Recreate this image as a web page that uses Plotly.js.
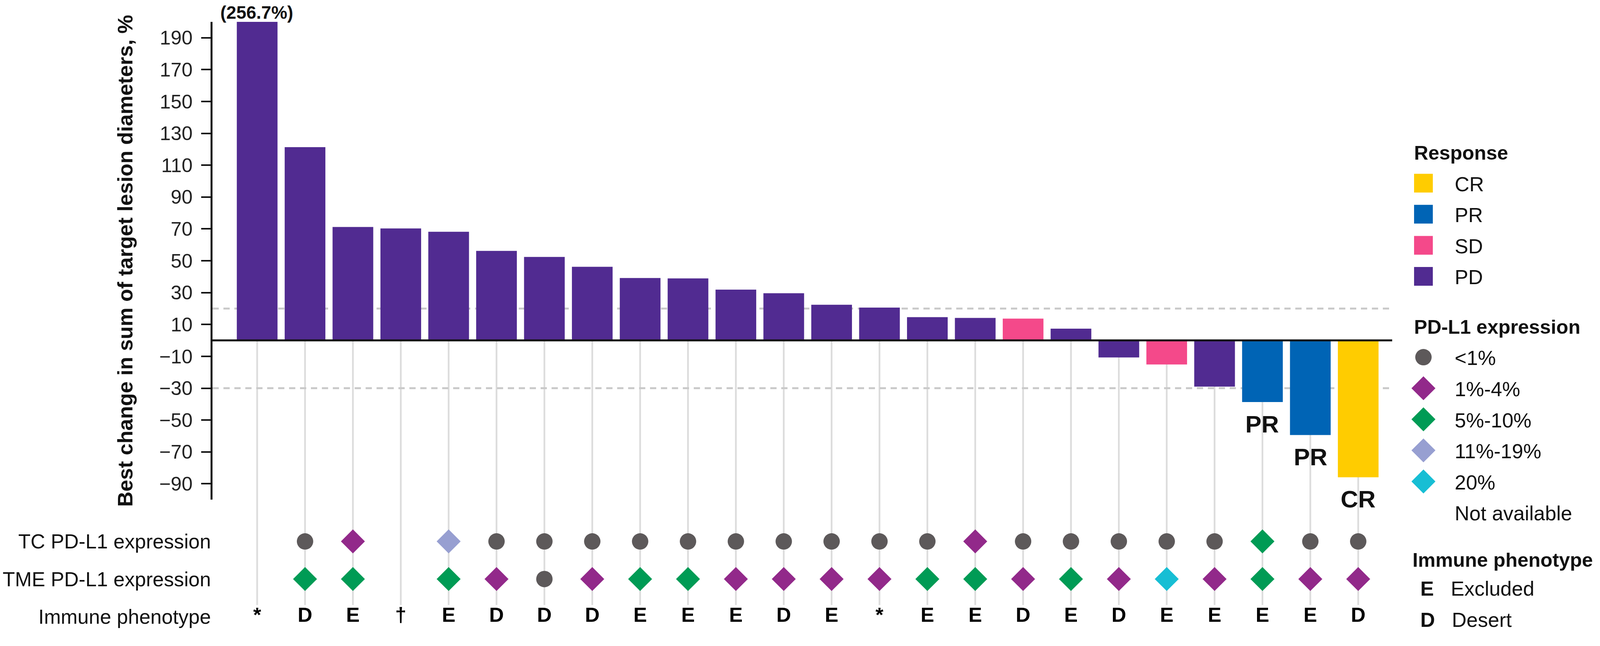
<!DOCTYPE html>
<html>
<head>
<meta charset="utf-8">
<script src="https://cdn.plot.ly/plotly-3.0.1.min.js"></script>
<style>
  html { overflow: hidden; background: #fff; }
  body { margin: 0; padding: 0; background: #fff; width: 4096px; height: 1655px; }
  /* laid out at 1/4 size and scaled up, so the legend symbols keep their proportions */
  #wrap { transform: scale(4); transform-origin: 0 0; width: 1024px; height: 414px; }
</style>
</head>
<body>
<div id="wrap"><div id="chart"></div></div>
<script>
var NA = 'Not available'

// one entry per patient, ordered by best change
var change = [256.7, 121.3, 71.2, 70.3, 68.2, 56.2, 52.4, 46.2, 39.2, 38.9, 31.9, 29.6,
              22.4, 20.6, 14.6, 14.1, 13.7, 7.4, -10.7, -15.1, -29.0, -38.7, -59.4, -85.9]
var response = ['PD','PD','PD','PD','PD','PD','PD','PD','PD','PD','PD','PD',
                'PD','PD','PD','PD','SD','PD','PD','SD','PD','PR','PR','CR']
var tcPDL1 = [NA,'<1%','1%-4%',NA,'11%-19%','<1%','<1%','<1%','<1%','<1%','<1%','<1%',
              '<1%','<1%','<1%','1%-4%','<1%','<1%','<1%','<1%','<1%','5%-10%','<1%','<1%']
var tmePDL1 = [NA,'5%-10%','5%-10%',NA,'5%-10%','1%-4%','<1%','1%-4%','5%-10%','5%-10%','1%-4%','1%-4%',
               '1%-4%','1%-4%','5%-10%','5%-10%','1%-4%','5%-10%','1%-4%','20%','1%-4%','5%-10%','1%-4%','1%-4%']
var phenotype = ['*','D','E','\u2020','E','D','D','D','E','E','E','D',
                 'E','*','E','E','D','E','D','E','E','E','E','D']

var responseCats = ['CR', 'PR', 'SD', 'PD']
var responseColors = ['#FFCC00', '#0064B5', '#F4498A', '#512B91']
var labelledResponses = ['PR', 'CR']

var pdl1Cats = ['<1%', '1%-4%', '5%-10%', '11%-19%', '20%', NA]
var pdl1Colors = ['#5D595A', '#92298A', '#009B55', '#979FD1', '#17BED4', 'rgba(0,0,0,0)']
var pdl1Symbols = ['circle', 'diamond', 'diamond', 'diamond', 'diamond', 'circle']

var rowLabels = ['TC PD-L1 expression', 'TME PD-L1 expression', 'Immune phenotype']
var phenoCodes = ['E', 'D']
var phenoNames = ['Excluded', 'Desert']
var thresholds = [20, -30]
var yTicks = [-90, -70, -50, -30, -10, 10, 30, 50, 70, 90, 110, 130, 150, 170, 190]

var FONT = 'Liberation Sans, Arial, Helvetica, sans-serif'
var yRange = [-100, 200]
var mainDomain = [0.2092, 1]
var rowsDomain = [0, 0.19]
var rowsRange = [-0.25, 2.8]
var lineEnd = 0.31   // gray guide lines stop just above the phenotype row

var pos = change.map(function (v, i) { return i })
var traces = []

responseCats.forEach(function (cat, k) {
  var idx = pos.filter(function (i) { return response[i] === cat })
  traces.push({
    type: 'bar', name: cat, legend: 'legend',
    x: idx, y: idx.map(function (i) { return change[i] }),
    width: 0.85,
    marker: {color: responseColors[k], line: {width: 0}}
  })
})

pdl1Cats.forEach(function (cat, k) {
  var xs = [], ys = []
  pos.forEach(function (i) {
    if (tcPDL1[i] === cat) { xs.push(i); ys.push(2) }
    if (tmePDL1[i] === cat) { xs.push(i); ys.push(1) }
  })
  traces.push({
    type: 'scatter', mode: 'markers', name: cat, legend: 'legend2',
    x: xs, y: ys, xaxis: 'x', yaxis: 'y2',
    marker: {symbol: pdl1Symbols[k], size: pdl1Symbols[k] === 'circle' ? 10.5 : 11.8,
             color: pdl1Colors[k], line: {width: 0}},
    cliponaxis: false
  })
})

traces.push({
  type: 'scatter', mode: 'text', showlegend: false,
  x: pos, y: pos.map(function () { return 0 }), xaxis: 'x', yaxis: 'y2',
  text: phenotype,
  textfont: {family: FONT, size: 13, color: '#000', weight: 'bold'},
  cliponaxis: false
})

phenoCodes.forEach(function (code, k) {
  traces.push({
    type: 'scatter', mode: 'markers', legend: 'legend3',
    name: '<b>' + code + '</b>\u00a0\u00a0\u00a0' + phenoNames[k],
    x: [null], y: [null], xaxis: 'x', yaxis: 'y2',
    marker: {color: 'rgba(0,0,0,0)', size: 10}
  })
})

// guide lines, thresholds and zero line
function rowsPaper(v) {
  return rowsDomain[0] + (v - rowsRange[0]) / (rowsRange[1] - rowsRange[0]) * (rowsDomain[1] - rowsDomain[0])
}
var zeroPaper = mainDomain[0] + (0 - yRange[0]) / (yRange[1] - yRange[0]) * (mainDomain[1] - mainDomain[0])

var shapes = pos.map(function (i) {
  return {type: 'line', xref: 'x', yref: 'paper', x0: i, x1: i, y0: zeroPaper, y1: rowsPaper(lineEnd),
          line: {color: '#DCDCDC', width: 1.1}, layer: 'below'}
})
thresholds.forEach(function (t) {
  shapes.push({type: 'line', xref: 'paper', yref: 'y', x0: 0, x1: 1, y0: t, y1: t,
               line: {color: '#CACACA', width: 1.25, dash: '4px,3px'}, layer: 'below'})
})
shapes.push({type: 'line', xref: 'paper', yref: 'y', x0: 0, x1: 1, y0: 0, y1: 0,
             line: {color: '#111', width: 1.25}, layer: 'above'})

var annotations = []
pos.forEach(function (i) {
  if (change[i] > yRange[1]) {
    annotations.push({x: i, y: yRange[1], xref: 'x', yref: 'y', yanchor: 'bottom', yshift: -1,
                      borderpad: 0, text: '<b>(' + change[i] + '%)</b>', showarrow: false,
                      font: {size: 11.5, color: '#111'}})
  }
  if (labelledResponses.indexOf(response[i]) >= 0) {
    annotations.push({x: i, y: change[i], xref: 'x', yref: 'y', yanchor: 'top', yshift: -3,
                      text: '<b>' + response[i] + '</b>', showarrow: false,
                      font: {size: 15.5, color: '#111'}})
  }
})
annotations.push({xref: 'paper', yref: 'paper', x: 1.0165, y: 0.108, xanchor: 'left', yanchor: 'middle',
                  borderpad: 0, text: '<b>Immune phenotype</b>', showarrow: false,
                  font: {size: 12.6, color: '#111'}})

var legendBase = {xanchor: 'left', yanchor: 'top', bgcolor: 'rgba(0,0,0,0)', borderwidth: 0,
                  font: {size: 13, color: '#111'}, tracegroupgap: 0, itemsizing: 'trace'}

var layout = {
  width: 1024, height: 414,
  margin: {l: 136, r: 133, t: 14, b: 2},
  font: {family: FONT, color: '#111'},
  paper_bgcolor: '#fff', plot_bgcolor: 'rgba(0,0,0,0)',
  barmode: 'overlay',
  showlegend: true,
  xaxis: {range: [-0.933, 23.71], visible: false, fixedrange: true},
  yaxis: {
    domain: mainDomain, range: yRange,
    tickvals: yTicks, ticks: 'outside', ticklen: 6, tickwidth: 1, tickcolor: '#111',
    tickfont: {size: 12.6, color: '#222'}, ticklabelstandoff: 3,
    showline: true, linecolor: '#111', linewidth: 1.2,
    showgrid: false, zeroline: false,
    title: {text: '<b>Best change in sum of target lesion diameters, %</b>',
            font: {size: 13.5, color: '#111'}, standoff: 13}
  },
  yaxis2: {
    domain: rowsDomain, range: rowsRange, anchor: 'x',
    tickvals: [2, 1, 0], ticktext: rowLabels, ticks: '',
    tickfont: {size: 12.9, color: '#111'}, ticklabelstandoff: 0,
    showline: false, showgrid: false, zeroline: false
  },
  legend: Object.assign({}, legendBase, {x: 1.0159, y: 0.814, indentation: -12,
    title: {text: '<b>Response</b>', font: {size: 12.6, color: '#111'}}}),
  legend2: Object.assign({}, legendBase, {x: 1.0159, y: 0.526, indentation: -12,
    title: {text: '<b>PD-L1 expression</b>', font: {size: 12.6, color: '#111'}}}),
  legend3: Object.assign({}, legendBase, {x: 0.9907, y: 0.1018, indentation: -15}),
  shapes: shapes,
  annotations: annotations
}

Plotly.newPlot('chart', traces, layout, {displayModeBar: false, staticPlot: true})
</script>
</body>
</html>
